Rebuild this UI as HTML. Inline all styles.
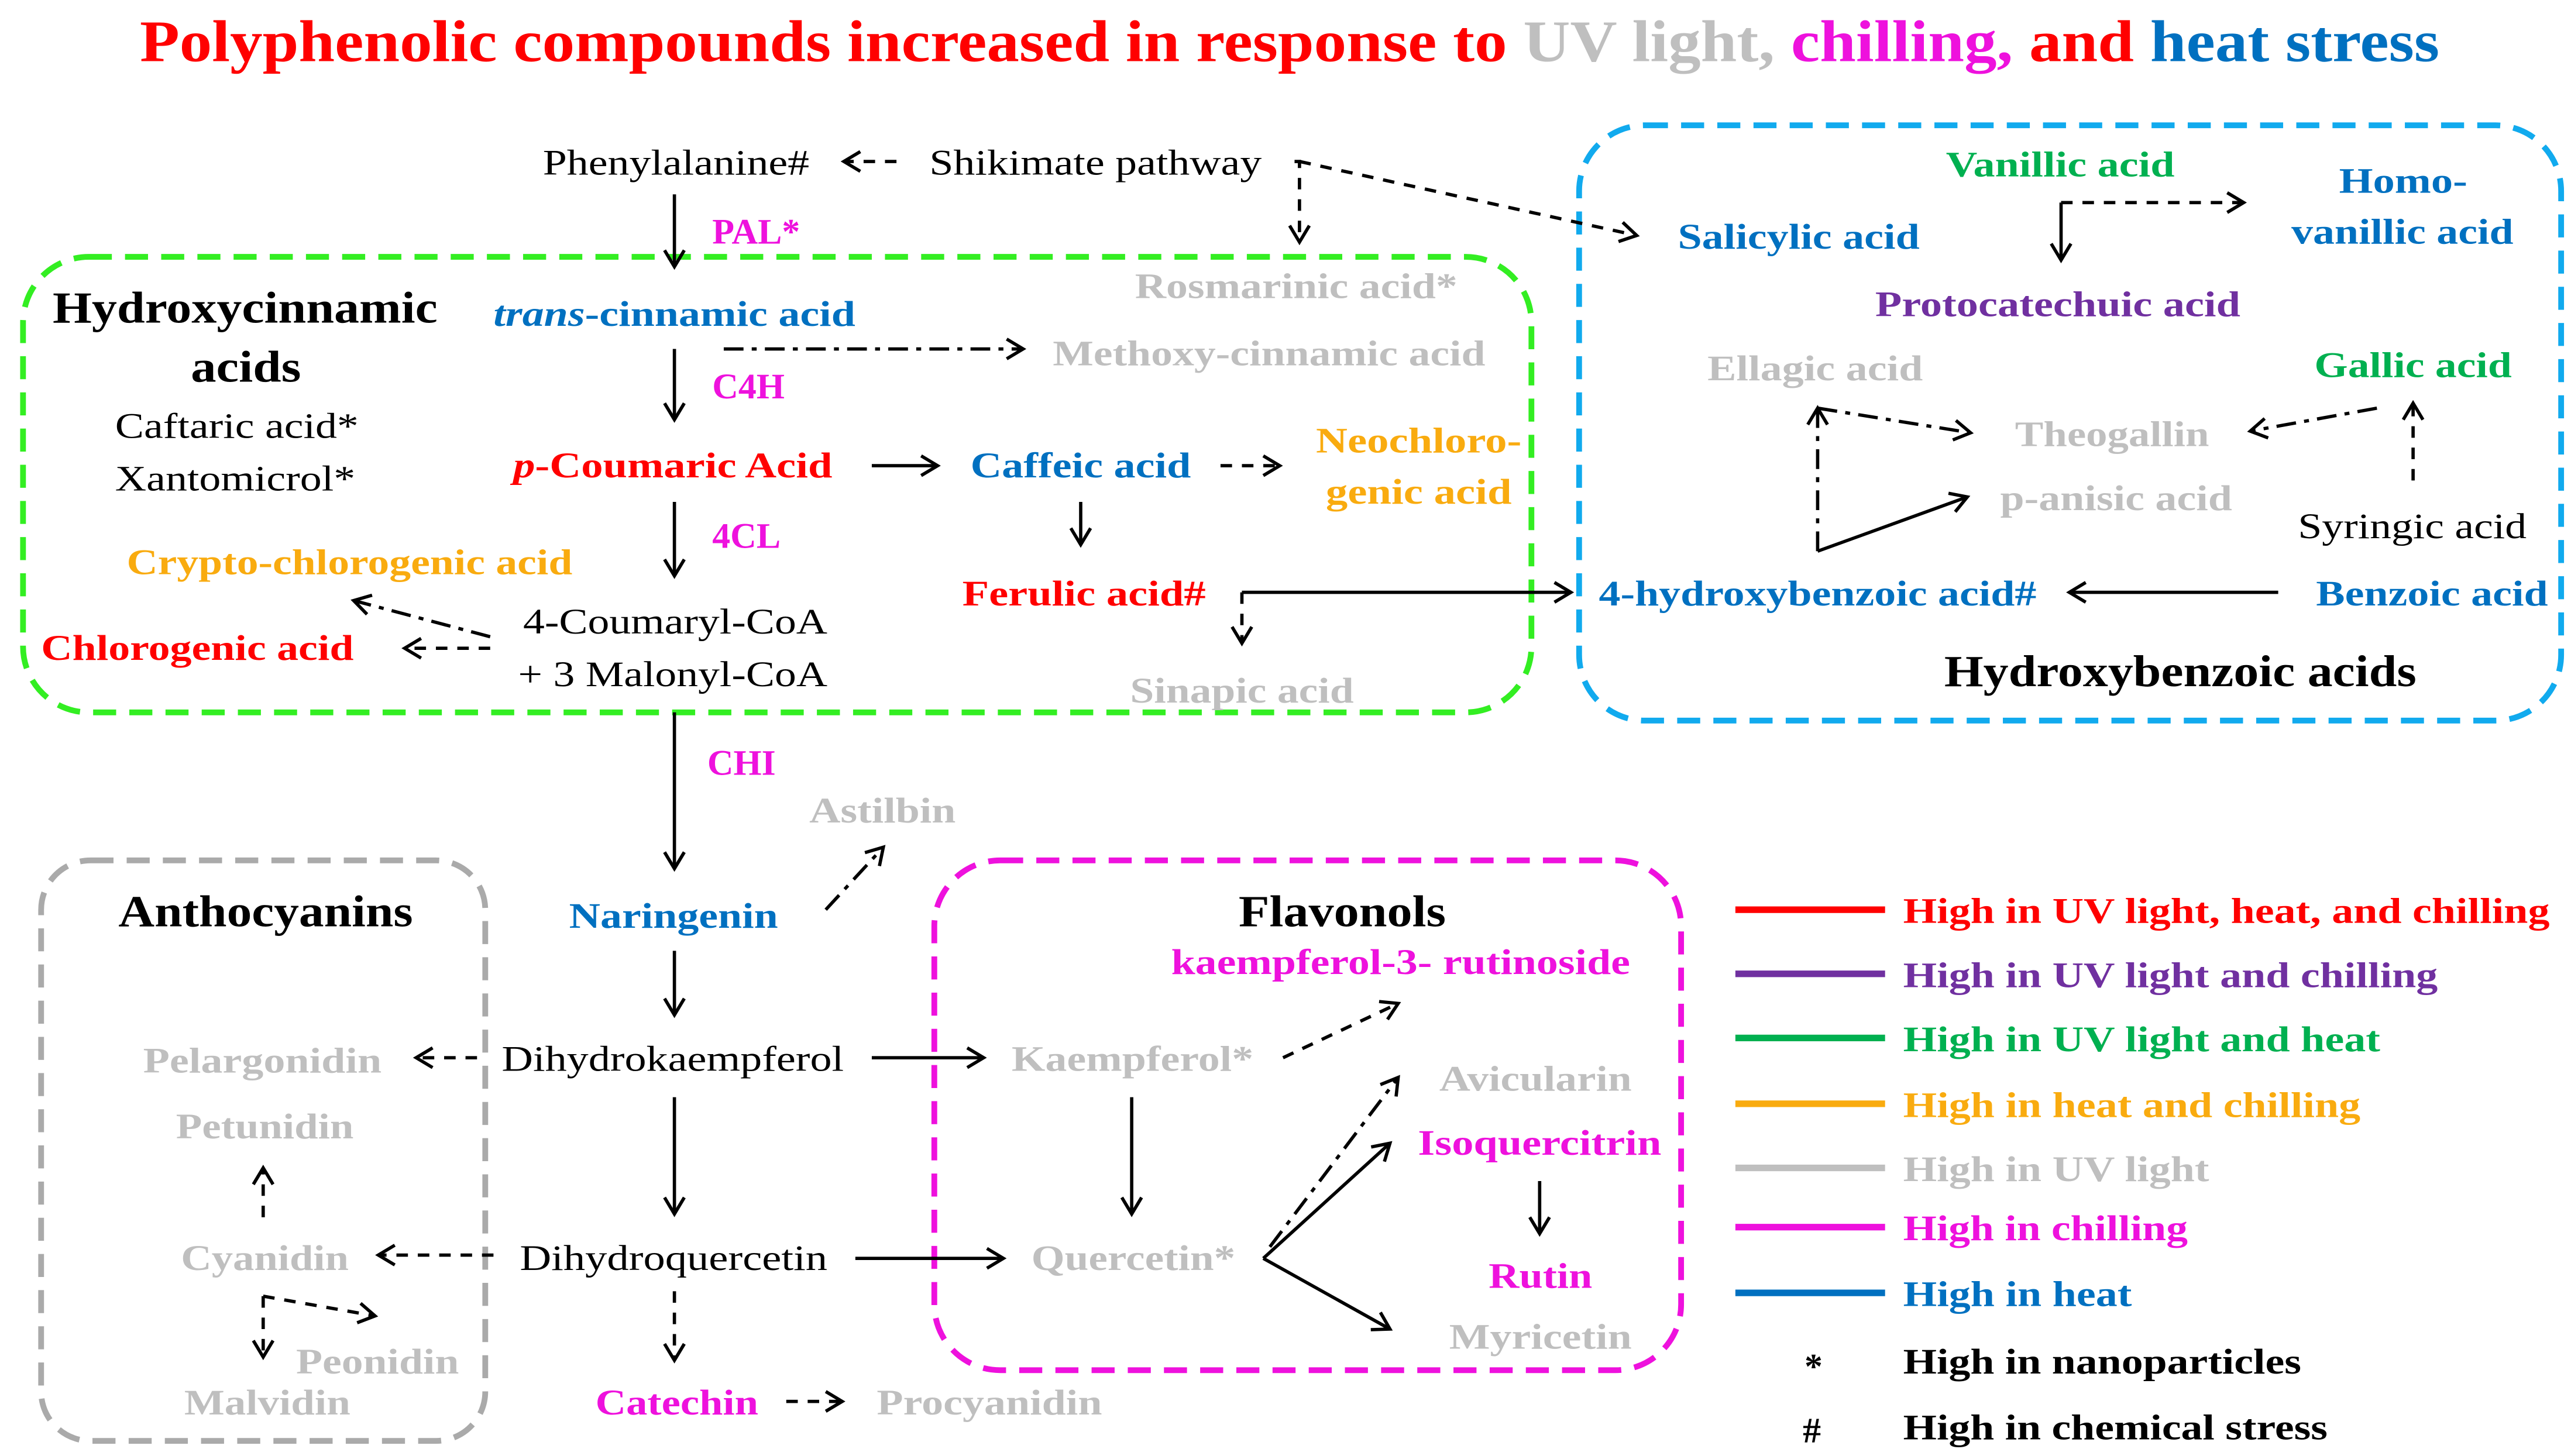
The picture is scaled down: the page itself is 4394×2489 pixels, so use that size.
<!DOCTYPE html>
<html><head><meta charset="utf-8"><style>
html,body{margin:0;padding:0;background:#fff;}
svg{display:block;}
text{font-family:"Liberation Serif",serif;font-size:22px;}
.b{font-weight:bold;}
.r{fill:#ff0000;font-weight:bold}.g{fill:#bfbfbf;font-weight:bold}.m{fill:#ee11dd;font-weight:bold}
.bl{fill:#0070c0;font-weight:bold}.gr{fill:#00b050;font-weight:bold}.o{fill:#f9ab0f;font-weight:bold}
.p{fill:#7030a0;font-weight:bold}.k{fill:#000}
.s{stroke:#000;stroke-width:2;fill:none;marker-end:url(#a)}
.d{stroke-dasharray:7 6}.dd{stroke-dasharray:12 5 3 5}
</style></head><body>
<svg width="4394" height="2489" viewBox="0 0 1563 885" xmlns="http://www.w3.org/2000/svg">
<defs><marker id="a" markerWidth="16" markerHeight="16" refX="12" refY="8" orient="auto" markerUnits="userSpaceOnUse">
<path d="M2,2 L12,8 L2,14" fill="none" stroke="#000" stroke-width="2"/></marker></defs>
<rect width="1563" height="885" fill="#fff"/>
<text x="85" y="37" class="b" style="font-size:36px" textLength="1398" lengthAdjust="spacingAndGlyphs"><tspan fill="#ff0000">Polyphenolic compounds increased in response to </tspan><tspan fill="#bfbfbf">UV light, </tspan><tspan fill="#ee11dd">chilling, </tspan><tspan fill="#ff0000">and </tspan><tspan fill="#0070c0">heat stress</tspan></text>

<rect x="14" y="156" width="917" height="277" rx="40" fill="none" stroke="#33ee22" stroke-width="3.5" stroke-dasharray="14 8"/>
<rect x="960" y="76" width="597" height="362" rx="40" fill="none" stroke="#11aaee" stroke-width="3.5" stroke-dasharray="14 8"/>
<rect x="25" y="523" width="270" height="353" rx="30" fill="none" stroke="#aaaaaa" stroke-width="3.5" stroke-dasharray="14 8"/>
<rect x="568" y="523" width="454" height="310" rx="40" fill="none" stroke="#ee11dd" stroke-width="3.5" stroke-dasharray="14 8"/>

<text x="330" y="106" class="k" textLength="162" lengthAdjust="spacingAndGlyphs">Phenylalanine#</text>
<path class="s d" d="M545,98 L513,98"/>
<text x="565" y="106" class="k" textLength="202" lengthAdjust="spacingAndGlyphs">Shikimate pathway</text>
<path class="s d" d="M787,98 L790,98 L790,147"/>
<path class="s d" d="M790,98 L995,143"/>
<path class="s" d="M410,118 L410,162"/>
<text x="433" y="148" class="m">PAL*</text>

<text x="32" y="196" class="b" style="font-size:27px" textLength="234" lengthAdjust="spacingAndGlyphs">Hydroxycinnamic</text>
<text x="116" y="232" class="b" style="font-size:27px" textLength="67" lengthAdjust="spacingAndGlyphs">acids</text>
<text x="70" y="266" class="k" textLength="148" lengthAdjust="spacingAndGlyphs">Caftaric acid*</text>
<text x="70" y="298" class="k" textLength="146" lengthAdjust="spacingAndGlyphs">Xantomicrol*</text>
<text x="300" y="198" class="bl" textLength="220" lengthAdjust="spacingAndGlyphs"><tspan font-style="italic">trans</tspan>-cinnamic acid</text>
<path class="s dd" d="M440,212 L622,212"/>
<text x="690" y="181" class="g" textLength="196" lengthAdjust="spacingAndGlyphs">Rosmarinic acid*</text>
<text x="640" y="222" class="g" textLength="263" lengthAdjust="spacingAndGlyphs">Methoxy-cinnamic acid</text>
<path class="s" d="M410,212 L410,255"/>
<text x="433" y="242" class="m">C4H</text>
<text x="312" y="290" class="r" textLength="194" lengthAdjust="spacingAndGlyphs"><tspan font-style="italic">p</tspan>-Coumaric Acid</text>
<path class="s" d="M530,283 L570,283"/>
<text x="590" y="290" class="bl" textLength="134" lengthAdjust="spacingAndGlyphs">Caffeic acid</text>
<path class="s d" d="M742,283 L778,283"/>
<text x="800" y="275" class="o" textLength="125" lengthAdjust="spacingAndGlyphs">Neochloro-</text>
<text x="806" y="306" class="o" textLength="113" lengthAdjust="spacingAndGlyphs">genic acid</text>
<path class="s" d="M410,305 L410,350"/>
<text x="433" y="333" class="m">4CL</text>
<path class="s" d="M657,305 L657,331"/>
<text x="585" y="368" class="r" textLength="148" lengthAdjust="spacingAndGlyphs">Ferulic acid#</text>
<path class="s" d="M755,360 L955,360"/>
<path class="s d" d="M755,360 L755,391"/>
<text x="687" y="427" class="g" textLength="136" lengthAdjust="spacingAndGlyphs">Sinapic acid</text>
<text x="77" y="349" class="o" textLength="271" lengthAdjust="spacingAndGlyphs">Crypto-chlorogenic acid</text>
<text x="25" y="401" class="r" textLength="190" lengthAdjust="spacingAndGlyphs">Chlorogenic acid</text>
<text x="318" y="385" class="k" textLength="185" lengthAdjust="spacingAndGlyphs">4-Coumaryl-CoA</text>
<text x="315" y="417" class="k" textLength="188" lengthAdjust="spacingAndGlyphs">+ 3 Malonyl-CoA</text>
<path class="s dd" d="M298,387 L215,365"/>
<path class="s d" d="M298,394 L246,394"/>

<text x="1183" y="107" class="gr" textLength="139" lengthAdjust="spacingAndGlyphs">Vanillic acid</text>
<text x="1422" y="117" class="bl" textLength="78" lengthAdjust="spacingAndGlyphs">Homo-</text>
<text x="1393" y="148" class="bl" textLength="135" lengthAdjust="spacingAndGlyphs">vanillic acid</text>
<text x="1020" y="151" class="bl" textLength="147" lengthAdjust="spacingAndGlyphs">Salicylic acid</text>
<path class="s d" d="M1253,123 L1364,123"/>
<path class="s" d="M1253,123 L1253,158"/>
<text x="1140" y="192" class="p" textLength="222" lengthAdjust="spacingAndGlyphs">Protocatechuic acid</text>
<text x="1038" y="231" class="g" textLength="131" lengthAdjust="spacingAndGlyphs">Ellagic acid</text>
<text x="1407" y="229" class="gr" textLength="120" lengthAdjust="spacingAndGlyphs">Gallic acid</text>
<text x="1225" y="271" class="g" textLength="118" lengthAdjust="spacingAndGlyphs">Theogallin</text>
<text x="1216" y="310" class="g" textLength="141" lengthAdjust="spacingAndGlyphs">p-anisic acid</text>
<text x="1397" y="327" class="k" textLength="139" lengthAdjust="spacingAndGlyphs">Syringic acid</text>
<text x="972" y="368" class="bl" textLength="266" lengthAdjust="spacingAndGlyphs">4-hydroxybenzoic acid#</text>
<text x="1408" y="368" class="bl" textLength="141" lengthAdjust="spacingAndGlyphs">Benzoic acid</text>
<path class="s" d="M1385,360 L1258,360"/>
<text x="1182" y="417" class="b" style="font-size:27px" textLength="287" lengthAdjust="spacingAndGlyphs">Hydroxybenzoic acids</text>
<path class="s dd" d="M1105,335 L1105,248"/>
<path class="s dd" d="M1105,248 L1198,263"/>
<path class="s" d="M1105,335 L1196,302"/>
<path class="s d" d="M1467,292 L1467,245"/>
<path class="s dd" d="M1445,248 L1368,262"/>

<path class="s" d="M410,433 L410,528"/>
<text x="430" y="471" class="m">CHI</text>
<text x="492" y="500" class="g" textLength="89" lengthAdjust="spacingAndGlyphs">Astilbin</text>
<path class="s dd" d="M502,553 L537,515"/>
<text x="346" y="564" class="bl" textLength="127" lengthAdjust="spacingAndGlyphs">Naringenin</text>
<path class="s" d="M410,578 L410,617"/>
<text x="305" y="651" class="k" textLength="208" lengthAdjust="spacingAndGlyphs">Dihydrokaempferol</text>
<path class="s" d="M530,643 L598,643"/>
<text x="615" y="651" class="g" textLength="147" lengthAdjust="spacingAndGlyphs">Kaempferol*</text>
<path class="s d" d="M780,643 L850,610"/>
<text x="753" y="563" class="b" style="font-size:27px" textLength="126" lengthAdjust="spacingAndGlyphs">Flavonols</text>
<text x="712" y="592" class="m" textLength="279" lengthAdjust="spacingAndGlyphs">kaempferol-3- rutinoside</text>
<text x="875" y="663" class="g" textLength="117" lengthAdjust="spacingAndGlyphs">Avicularin</text>
<text x="862" y="702" class="m" textLength="148" lengthAdjust="spacingAndGlyphs">Isoquercitrin</text>
<path class="s" d="M936,718 L936,750"/>
<text x="905" y="783" class="m" textLength="63" lengthAdjust="spacingAndGlyphs">Rutin</text>
<text x="881" y="820" class="g" textLength="111" lengthAdjust="spacingAndGlyphs">Myricetin</text>
<path class="s" d="M688,667 L688,738"/>
<text x="627" y="772" class="g" textLength="124" lengthAdjust="spacingAndGlyphs">Quercetin*</text>
<path class="s" d="M768,765 L845,695"/>
<path class="s dd" d="M772,758 L850,655"/>
<path class="s" d="M768,765 L845,808"/>
<path class="s" d="M410,667 L410,738"/>
<text x="316" y="772" class="k" textLength="187" lengthAdjust="spacingAndGlyphs">Dihydroquercetin</text>
<path class="s" d="M520,765 L610,765"/>
<path class="s d" d="M410,785 L410,827"/>
<text x="362" y="860" class="m" textLength="99" lengthAdjust="spacingAndGlyphs">Catechin</text>
<path class="s d" d="M478,852 L512,852"/>
<text x="533" y="860" class="g" textLength="137" lengthAdjust="spacingAndGlyphs">Procyanidin</text>

<text x="72" y="563" class="b" style="font-size:27px" textLength="179" lengthAdjust="spacingAndGlyphs">Anthocyanins</text>
<text x="87" y="652" class="g" textLength="145" lengthAdjust="spacingAndGlyphs">Pelargonidin</text>
<path class="s d" d="M290,643 L253,643"/>
<text x="107" y="692" class="g" textLength="108" lengthAdjust="spacingAndGlyphs">Petunidin</text>
<path class="s d" d="M160,740 L160,710"/>
<text x="110" y="772" class="g" textLength="102" lengthAdjust="spacingAndGlyphs">Cyanidin</text>
<path class="s d" d="M300,763 L230,763"/>
<path class="s d" d="M160,788 L160,825"/>
<path class="s d" d="M160,788 L228,800"/>
<text x="180" y="835" class="g" textLength="99" lengthAdjust="spacingAndGlyphs">Peonidin</text>
<text x="112" y="860" class="g" textLength="101" lengthAdjust="spacingAndGlyphs">Malvidin</text>

<g stroke-width="4">
<line x1="1055" y1="553" x2="1146" y2="553" stroke="#ff0000"/>
<line x1="1055" y1="592" x2="1146" y2="592" stroke="#7030a0"/>
<line x1="1055" y1="631" x2="1146" y2="631" stroke="#00b050"/>
<line x1="1055" y1="671" x2="1146" y2="671" stroke="#f9ab0f"/>
<line x1="1055" y1="710" x2="1146" y2="710" stroke="#bfbfbf"/>
<line x1="1055" y1="746" x2="1146" y2="746" stroke="#ee11dd"/>
<line x1="1055" y1="786" x2="1146" y2="786" stroke="#0070c0"/>
</g>
<text x="1157" y="561" class="r" textLength="393" lengthAdjust="spacingAndGlyphs">High in UV light, heat, and chilling</text>
<text x="1157" y="600" class="p" textLength="325" lengthAdjust="spacingAndGlyphs">High in UV light and chilling</text>
<text x="1157" y="639" class="gr" textLength="290" lengthAdjust="spacingAndGlyphs">High in UV light and heat</text>
<text x="1157" y="679" class="o" textLength="278" lengthAdjust="spacingAndGlyphs">High in heat and chilling</text>
<text x="1157" y="718" class="g" textLength="186" lengthAdjust="spacingAndGlyphs">High in UV light</text>
<text x="1157" y="754" class="m" textLength="173" lengthAdjust="spacingAndGlyphs">High in chilling</text>
<text x="1157" y="794" class="bl" textLength="139" lengthAdjust="spacingAndGlyphs">High in heat</text>
<text x="1097" y="838" class="b">*</text>
<text x="1157" y="835" class="b" textLength="242" lengthAdjust="spacingAndGlyphs">High in nanoparticles</text>
<text x="1096" y="877" class="b">#</text>
<text x="1157" y="875" class="b" textLength="258" lengthAdjust="spacingAndGlyphs">High in chemical stress</text>
</svg>
</body></html>
